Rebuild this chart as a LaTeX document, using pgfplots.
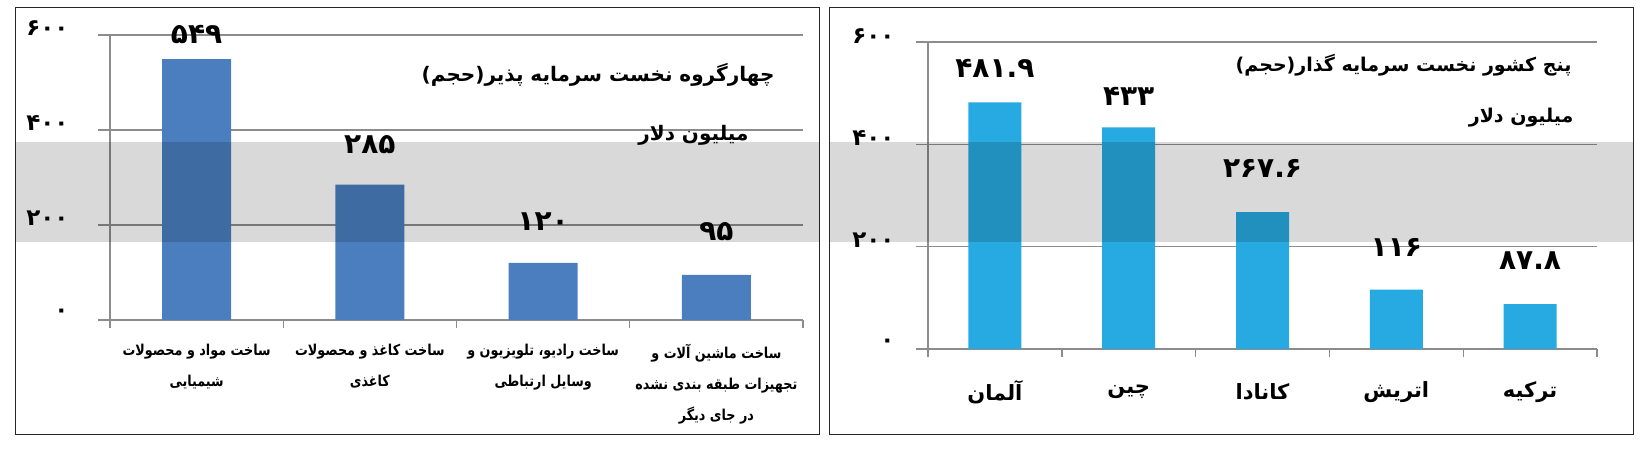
\documentclass[border=0pt]{standalone}
\usepackage{fontspec}
\usepackage{pgfplots}
\usepackage{pgfplotstable}
\pgfplotsset{compat=1.18}
\TeXXeTstate=1
\newfontfamily\fa[Script=Arabic]{DejaVu Sans}
\newfontfamily\facond[Script=Arabic, FakeStretch=0.85]{DejaVu Sans}
\definecolor{barA}{HTML}{4A7EBF}
\definecolor{barB}{HTML}{27AAE1}
\definecolor{gridc}{HTML}{8C8C8C}
\pgfplotstableread{
x y lab off
0 549 ۵۴۹ 25
1 285 ۲۸۵ 40
2 120 ۱۲۰ 41
3 95 ۹۵ 43
}\leftdata
\pgfplotstableread{
x y lab off
0 481.9 ۴۸۱.۹ 34
1 433 ۴۳۳ 31
2 267.6 ۲۶۷.۶ 44
3 116 ۱۱۶ 42
4 87.8 ۸۷.۸ 43
}\rightdata
\begin{document}
\begin{tikzpicture}
\useasboundingbox (0,0) rectangle (1646pt,449pt);
\pgfplotsset{
  panel/.style={
    scale only axis,
    anchor=south west,
    axis x line*=bottom,
    axis y line*=left,
    axis line style={gridc, line width=1.4pt},
    ymin=0, ymax=600,
    ytick={0,200,400,600},
    ymajorgrids,
    grid style={gridc, line width=1.4pt},
    tick align=outside,
    major tick length=12pt,
    minor tick length=8pt,
    tick style={gridc, line width=1.4pt},
    every major x tick/.append style={draw=none},
    xtick=data,
    ybar,
    point meta=explicit symbolic,
    nodes near coords,
    visualization depends on={\thisrow{off}\as\off},
    every node near coord/.append style={font=\fa\bfseries\fontsize{28}{28}\selectfont, anchor=center, yshift=\off pt, text=black},
    yticklabels={۰,۲۰۰,۴۰۰,۶۰۰},
    yticklabel style={font=\fa\bfseries\fontsize{23}{23}\selectfont, anchor=east},
    clip=false,
  }
}
% left panel
\begin{axis}[panel,
  at={(110pt,129pt)}, width=693pt, height=285pt,
  xmin=-0.5, xmax=3.5,
  minor xtick={-0.5,0.5,1.5,2.5,3.5},
  bar width=69pt,
  yticklabel style={xshift=-26pt, yshift=7pt},
  xticklabel style={font=\facond\bfseries\fontsize{15}{31}\selectfont, align=center, anchor=north, yshift=-9pt},
  xticklabels={
    {\beginR ساخت مواد و محصولات\endR\\\beginR شیمیایی\endR},
    {\beginR ساخت کاغذ و محصولات\endR\\\beginR کاغذی\endR},
    {\beginR ساخت رادیو، تلویزیون و\endR\\\beginR وسایل ارتباطی\endR},
    {\beginR ساخت ماشین آلات و\endR\\\beginR تجهیزات طبقه بندی نشده\endR\\\beginR در جای دیگر\endR}},
]
\addplot[fill=barA, draw=none] table[x=x, y=y, meta=lab] {\leftdata};
\end{axis}
% right panel
\begin{axis}[panel,
  at={(928pt,100pt)}, width=669pt, height=307pt,
  xmin=-0.5, xmax=4.5,
  minor xtick={-0.5,0.5,1.5,2.5,3.5,4.5},
  bar width=53pt,
  yticklabel style={xshift=-18pt, yshift=6pt},
  xticklabel style={font=\fa\bfseries\fontsize{21}{21}\selectfont, anchor=center, yshift=-31pt},
  xticklabels={{\beginR آلمان\endR},{\beginR چین\endR},{\beginR کانادا\endR},{\beginR اتریش\endR},{\beginR ترکیه\endR}},
]
\addplot[fill=barB, draw=none] table[x=x, y=y, meta=lab] {\rightdata};
\end{axis}
% titles
\node[anchor=east, font=\fa\bfseries\fontsize{20}{20}\selectfont] at (778pt,374pt) {\beginR چهارگروه  نخست سرمایه پذیر(حجم)\endR};
\node[anchor=east, font=\fa\bfseries\fontsize{20}{20}\selectfont] at (752pt,314pt) {\beginR میلیون دلار\endR};
\node[anchor=east, font=\fa\bfseries\fontsize{19}{19}\selectfont] at (1575pt,384pt) {\beginR پنج کشور نخست سرمایه گذار(حجم)\endR};
\node[anchor=east, font=\fa\bfseries\fontsize{19}{19}\selectfont] at (1577pt,331pt) {\beginR میلیون دلار\endR};
% band
\fill[black, opacity=0.15] (15pt,207pt) rectangle (819pt,307pt);
\fill[black, opacity=0.15] (829pt,207pt) rectangle (1633pt,307pt);
% frames
\draw[line width=1pt, black!85] (15pt,14pt) rectangle (819pt,441pt);
\draw[line width=1pt, black!85] (829pt,14pt) rectangle (1633pt,441pt);
\end{tikzpicture}
\end{document}
